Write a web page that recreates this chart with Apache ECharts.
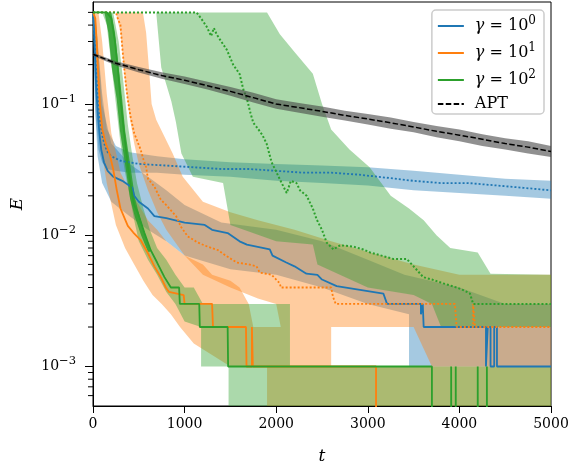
<!DOCTYPE html>
<html>
<head>
<meta charset="utf-8">
<script src="https://cdn.jsdelivr.net/npm/echarts@6/dist/echarts.min.js"></script>
<style>
html, body { margin: 0; padding: 0; background: #fff; }
#main { width: 572px; height: 465px; }
</style>
</head>
<body>
<div id="main"></div>
<script>
// value used for "zero" (falls below the log axis and gets clipped)
const ZERO = 1e-5;

const xTicks = [0, 1000, 2000, 3000, 4000, 5000];
const yMajor = [1e-3, 1e-2, 1e-1];
const yMinor = [6e-4, 7e-4, 8e-4, 9e-4, 2e-3, 3e-3, 4e-3, 5e-3, 6e-3, 7e-3, 8e-3, 9e-3,
  2e-2, 3e-2, 4e-2, 5e-2, 6e-2, 7e-2, 8e-2, 9e-2, 0.2, 0.3, 0.4, 0.5];

// gamma = 10^0
const blueMed = [[0,.5],[10,.4],[20,.25],[35,.13],[50,.09],[70,.06],[90,.045],[120,.036],[160,.031],[220,.028],
  [320,.026],[430,.023],[450,.02],[500,.018],[600,.016],[670,.014],[800,.0135],[1000,.0125],[1220,.012],[1300,.011],
  [1470,.0104],[1600,.009],[1680,.0085],[1930,.0078],[1960,.007],[2110,.0062],[2200,.0058],[2330,.0051],[2450,.005],
  [2500,.0046],[2660,.0041],[3170,.0036],[3210,.003],[3580,.003],[3580,.0025],[3600,.0025],[3600,.003],[3610,.003],
  [3610,.002],[4290,.002],[4290,.001],[4310,.001],[4310,.002],[4340,.002],[4340,.001],[4380,.001],[4380,.002],
  [4410,.002],[4410,.001],[5000,.001]];
const blueMedUp = [[0,.5],[20,.5],[50,.3],[100,.1],[200,.05],[400,.035],[600,.028],[800,.022],[1000,.017],[1400,.0125],
  [2000,.011],[2500,.009],[3000,.0065],[3400,.005],[4000,.004],[4500,.003],[5000,.003]];
const blueMedLow = [[0,.5],[20,.1],[50,.04],[100,.025],[200,.018],[400,.014],[600,.011],[800,.009],[1000,.007],[1500,.0055],
  [2000,.005],[2500,.004],[3000,.003],[3450,.0025],[3450,.001],[4000,.001],[5000,.001]];
const blueMean = [[0,.5],[15,.35],[30,.2],[50,.12],[70,.08],[100,.058],[130,.048],[160,.043],[200,.04],[300,.037],
  [500,.035],[800,.034],[1100,.033],[1400,.032],[1700,.032],[2000,.031],[2300,.030],[2600,.030],[2900,.029],
  [3200,.0275],[3500,.026],[3800,.025],[4100,.025],[4400,.024],[4700,.023],[5000,.022]];
const blueMeanUp = [[0,.5],[30,.45],[60,.25],[100,.12],[150,.065],[250,.048],[400,.043],[700,.04],[1000,.038],[1500,.036],
  [2000,.035],[2500,.034],[3000,.033],[3500,.031],[4000,.029],[4500,.027],[5000,.026]];
const blueMeanLow = [[0,.5],[30,.08],[60,.045],[100,.036],[150,.032],[250,.031],[400,.030],[700,.030],[1000,.029],[1500,.028],
  [2000,.026],[2500,.025],[3000,.024],[3500,.022],[4000,.021],[4500,.020],[5000,.019]];

// gamma = 10^1
const orangeMed = [[0,.5],[25,.45],[40,.3],[55,.18],[75,.1],[100,.065],[140,.05],[180,.042],[220,.032],[260,.022],
  [300,.016],[380,.0118],[440,.0105],[520,.0092],[600,.0073],[670,.0058],[740,.0048],[795,.004],[830,.0037],
  [990,.0035],[1000,.003],[1300,.003],[1310,.002],[1670,.002],[1676,.001],[1735,.001],[1735,.002],[1745,.002],
  [1745,.001],[3090,.001],[3090,ZERO],[5000,ZERO]];
const orangeMedUp = [[0,.5],[60,.5],[100,.3],[150,.12],[200,.06],[260,.04],[300,.03],[400,.022],[500,.017],[600,.013],
  [700,.011],[800,.009],[1000,.007],[1200,.006],[1300,.005],[1500,.0045],[1600,.004],[1700,.003],[1750,.002],
  [2600,.002],[2600,.001],[5000,.001]];
const orangeMedLow = [[0,.5],[40,.15],[80,.05],[150,.025],[250,.012],[350,.008],[450,.006],[550,.0045],[650,.0035],
  [750,.003],[850,.0025],[950,.002],[1100,.0015],[1500,.001],[1900,.001],[1900,ZERO],[5000,ZERO]];
const orangeMean = [[0,.5],[250,.5],[270,.45],[300,.4],[320,.27],[340,.19],[360,.14],[380,.108],[410,.08],[450,.06],
  [520,.045],[550,.038],[580,.033],[600,.027],[670,.0235],[740,.0187],[800,.017],[910,.0139],[960,.0116],[1035,.0098],
  [1145,.0088],[1250,.0082],[1365,.0077],[1450,.007],[1570,.0062],[1700,.006],[1785,.0058],[1820,.0052],[1950,.005],
  [2040,.0043],[2050,.004],[2600,.004],[2620,.0034],[2650,.003],[3950,.003],[3970,.002],[4150,.002],[4150,.003],
  [4170,.003],[4170,.002],[5000,.002]];
const orangeMeanUp = [[250,.5],[545,.5],[580,.35],[610,.19],[640,.1],[690,.076],[870,.042],[980,.028],[1200,.018],
  [1500,.015],[1800,.013],[2200,.011],[2600,.009],[3000,.0075],[3500,.006],[4000,.005],[5000,.005]];
const orangeMeanLow = [[250,.5],[300,.35],[350,.15],[400,.08],[450,.05],[500,.035],[600,.022],[700,.015],[800,.011],
  [1000,.007],[1200,.005],[1500,.004],[1800,.0033],[2000,.003],[2050,.002],[3500,.002],[3700,.001],[5000,.001]];

// gamma = 10^2
const greenMed = [[0,.5],[150,.5],[200,.45],[240,.3],[270,.19],[300,.11],[340,.06],[380,.034],[420,.022],[450,.017],
  [490,.0148],[560,.0105],[630,.0077],[700,.0062],[780,.0048],[850,.004],[940,.004],[948,.003],[1160,.003],
  [1166,.002],[1470,.002],[1475,.001],[3700,.001],[3700,ZERO],[3910,ZERO],[3910,.001],[3915,.001],[3915,ZERO],
  [3960,ZERO],[3960,.001],[3965,.001],[3965,ZERO],[4200,ZERO],[4200,.001],[4205,.001],[4205,ZERO],[4300,ZERO],
  [4300,.001],[4305,.001],[4305,ZERO],[5000,ZERO]];
const greenCoreUp = [[200,.5],[240,.35],[280,.19],[318,.11],[352,.062],[405,.035],[460,.019],[510,.014],[570,.01],[630,.0075]];
const greenCoreLow = [[125,.5],[168,.35],[205,.19],[258,.11],[295,.062],[350,.035],[405,.019],[455,.014],[525,.01],[600,.0075]];
const greenMedUp = [[100,.5],[220,.5],[280,.3],[330,.15],[380,.07],[430,.04],[480,.025],[550,.016],[620,.011],[700,.008],
  [800,.0065],[900,.005],[1000,.004],[1100,.004],[1200,.003],[2150,.003],[2150,.001],[5000,.001]];
const greenMedLow = [[100,.5],[150,.4],[200,.2],[250,.1],[300,.05],[350,.03],[400,.02],[450,.013],[500,.009],[600,.0065],
  [700,.005],[800,.0037],[900,.003],[1000,.0022],[1180,.002],[1180,.001],[1480,.001],[1480,ZERO],[5000,ZERO]];
const greenMean = [[0,.5],[1130,.5],[1180,.45],[1240,.39],[1290,.33],[1320,.38],[1350,.34],[1400,.3],[1460,.26],
  [1530,.2],[1600,.17],[1640,.13],[1680,.11],[1720,.085],[1750,.072],[1800,.065],[1850,.058],[1895,.05],[1950,.036],
  [2005,.03],[2060,.025],[2115,.021],[2160,.026],[2222,.025],[2260,.022],[2332,.02],[2400,.016],[2442,.0132],
  [2500,.011],[2551,.0088],[2625,.0078],[2700,.0084],[2842,.0082],[2950,.0078],[3025,.0074],[3150,.007],[3280,.0066],
  [3425,.0066],[3500,.0058],[3605,.0048],[3700,.0046],[3825,.0043],[3970,.004],[4050,.0038],[4115,.0036],[4150,.003],
  [5000,.003]];
const greenMeanUp = [[450,.5],[1900,.5],[2040,.34],[2200,.25],[2400,.17],[2500,.1],[2600,.064],[2800,.045],[3020,.033],
  [3250,.02],[3450,.016],[3610,.013],[3750,.01],[3900,.008],[4200,.0074],[4340,.0051],[5000,.005]];
const greenMeanLow = [[450,.5],[690,.5],[745,.19],[855,.105],[905,.073],[965,.042],[1090,.028],[1420,.025],[1500,.012],
  [2000,.009],[2400,.0085],[2450,.006],[3000,.004],[3500,.0035],[3700,.003],[3800,.002],[5000,.002]];

// APT
const aptT = [0,250,500,750,1000,1250,1500,1750,2000,2250,2500,2750,3000,3250,3500,3750,4000,4250,4500,4750,5000];
const aptMean = [.24,.205,.183,.165,.152,.138,.125,.112,.1,.094,.088,.082,.077,.072,.067,.062,.058,.054,.05,.047,.0435];
const aptLow = [.234,.197,.174,.156,.142,.129,.116,.103,.092,.086,.08,.075,.07,.065,.061,.056,.052,.048,.045,.042,.0395];
const aptHigh = [.246,.212,.192,.175,.162,.148,.135,.122,.109,.102,.096,.089,.084,.079,.073,.068,.064,.059,.055,.052,.048];

const BLUE = '#1f77b4', ORANGE = '#ff7f0e', GREEN = '#2ca02c';
const FONT = 'DejaVu Serif';

function band(up, low, fill, z) {
  return {
    type: 'custom', z: z, silent: true, clip: true,
    data: [[2500, 0.01]],
    renderItem: function (params, api) {
      const pts = up.map(p => api.coord(p)).concat(low.slice().reverse().map(p => api.coord(p)));
      return { type: 'polygon', shape: { points: pts }, style: { fill: fill } };
    }
  };
}

function line(name, data, color, type, width, z) {
  return {
    name: name, type: 'line', data: data, z: z, symbol: 'none', showSymbol: false,
    clip: true, animation: false, color: color,
    lineStyle: { color: color, width: width, type: type }
  };
}

// log-axis minor ticks, placed through the y scale
const minorTicks = {
  type: 'custom', silent: true, clip: false, z: 6,
  data: yMinor.map(v => [0, v]),
  renderItem: function (params, api) {
    const c = api.coord([0, api.value(1)]);
    return { type: 'line', shape: { x1: c[0] - 5, y1: c[1], x2: c[0], y2: c[1] }, style: { stroke: '#000', lineWidth: 1 } };
  }
};

const dotted = [2, 2];
const aptPairs = aptT.map((t, i) => [t, aptMean[i]]);
const aptUp = aptT.map((t, i) => [t, aptHigh[i]]);
const aptLo = aptT.map((t, i) => [t, aptLow[i]]);

const axisRich = {
  b: { fontFamily: FONT, fontSize: 14, lineHeight: 22, color: '#000' },
  s: { fontFamily: FONT, fontSize: 11.5, lineHeight: 12, verticalAlign: 'top', color: '#000' }
};
const legRich = {
  b: { fontFamily: FONT, fontSize: 16, lineHeight: 22, color: '#000' },
  s: { fontFamily: FONT, fontSize: 12, lineHeight: 12, verticalAlign: 'top', color: '#000' },
  i: { fontFamily: FONT, fontStyle: 'italic', fontSize: 16, lineHeight: 22, color: '#000' }
};
const legendText = {
  g0: '{i|γ}{b| = 10}{s|0}',
  g1: '{i|γ}{b| = 10}{s|1}',
  g2: '{i|γ}{b| = 10}{s|2}',
  APT: '{b|APT}'
};

const chart = echarts.init(document.getElementById('main'), null, { renderer: 'canvas' });
chart.setOption({
  animation: false,
  backgroundColor: '#fff',
  grid: {
    left: 93, right: 21, top: 2, bottom: 59, containLabel: false, outerBoundsMode: 'none',
    show: true, borderColor: '#000', borderWidth: 1
  },
  legend: {
    data: ['g0', 'g1', 'g2', 'APT'],
    orient: 'vertical', right: 28, top: 10,
    padding: [5, 8, 2, 5], itemGap: 8,
    itemWidth: 26, itemHeight: 14,
    itemStyle: { opacity: 0 },
    backgroundColor: 'rgba(255,255,255,0.8)', borderColor: '#ccc', borderWidth: 1.5, borderRadius: 4,
    formatter: n => legendText[n],
    textStyle: { rich: legRich, padding: [0, 0, 0, 6] }
  },
  xAxis: {
    type: 'value', min: 0, max: 5000, interval: 1000,
    name: 't', nameLocation: 'middle', nameGap: 42,
    nameTextStyle: { fontFamily: FONT, fontStyle: 'italic', fontSize: 17, color: '#000' },
    axisLine: { show: true, lineStyle: { color: '#000', width: 1 } },
    axisTick: { show: true, length: 7, lineStyle: { color: '#000' } },
    axisLabel: { fontFamily: FONT, fontSize: 14, color: '#000', margin: 11, formatter: v => String(v) },
    splitLine: { show: false }
  },
  yAxis: {
    type: 'log', min: 5e-4, max: 0.6,
    name: 'E', nameLocation: 'middle', nameGap: 67, nameRotate: 90,
    nameTextStyle: { fontFamily: FONT, fontStyle: 'italic', fontSize: 17, color: '#000' },
    axisLine: { show: true, lineStyle: { color: '#000', width: 1 } },
    axisTick: { show: true, length: 8, customValues: yMajor, lineStyle: { color: '#000' } },
    axisLabel: {
      customValues: yMajor, margin: 17,
      formatter: v => { const e = Math.round(Math.log10(v)); return '{b|10}{s|' + (e < 0 ? '\u2212' + (-e) : e) + '}'; },
      rich: axisRich
    },
    splitLine: { show: false }, minorTick: { show: false }
  },
  series: [
    band(blueMedUp, blueMedLow, 'rgba(31,119,180,0.4)', 1),
    band(blueMeanUp, blueMeanLow, 'rgba(31,119,180,0.4)', 1),
    band(orangeMedUp, orangeMedLow, 'rgba(255,127,14,0.4)', 1),
    band(orangeMeanUp, orangeMeanLow, 'rgba(255,127,14,0.4)', 1),
    band(greenMedUp, greenMedLow, 'rgba(44,160,44,0.4)', 1),
    band(greenMeanUp, greenMeanLow, 'rgba(44,160,44,0.4)', 1),
    band(greenCoreUp, greenCoreLow, 'rgba(44,160,44,0.85)', 1),
    line('g0', blueMed, BLUE, 'solid', 1.8, 2),
    line('b-mean', blueMean, BLUE, dotted, 1.8, 2),
    line('g1', orangeMed, ORANGE, 'solid', 1.8, 2),
    line('o-mean', orangeMean, ORANGE, dotted, 1.8, 2),
    line('g2', greenMed, GREEN, 'solid', 1.8, 2),
    line('gr-mean', greenMean, GREEN, dotted, 2, 2),
    band(aptUp, aptLo, 'rgba(70,70,70,0.6)', 3),
    line('APT', aptPairs, '#000', [5.5, 2.4], 1.5, 4),
    minorTicks
  ]
});
</script>
</body>
</html>
